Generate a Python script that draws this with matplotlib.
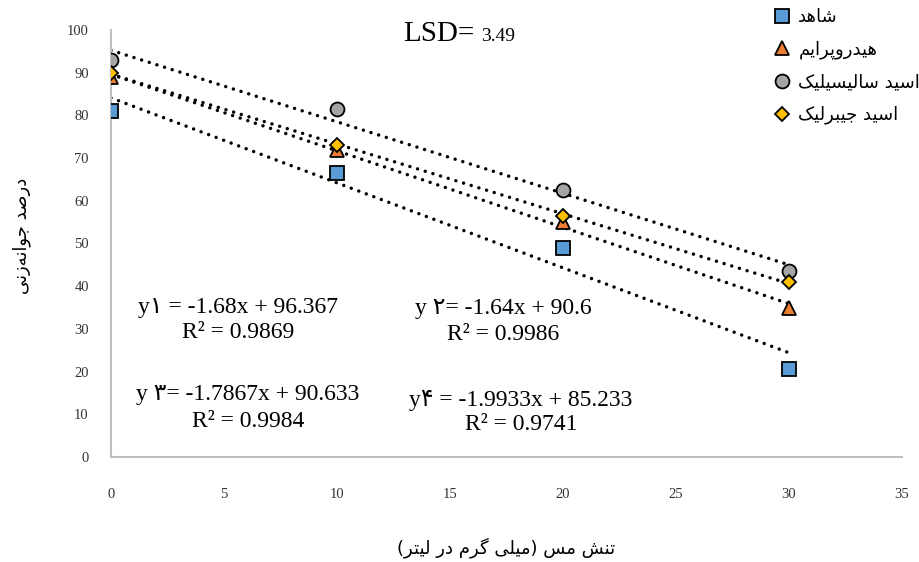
import numpy as np
import matplotlib
matplotlib.use("Agg")
import matplotlib.pyplot as plt

# ---------------- data ----------------
copper = [0, 10, 20, 30]                      # mg/L
control = [81.0, 66.5, 49.0, 20.5]            # شاهد
hydroprime = [89.0, 72.0, 55.0, 35.0]         # هیدروپرایم
salicylic = [93.0, 81.5, 62.5, 43.5]          # اسید سالیسیلیک
gibberellic = [90.0, 73.0, 56.5, 41.0]        # اسید جیبرلیک

series_names = ["شاهد", "هیدروپرایم", "اسید سالیسیلیک", "اسید جیبرلیک"]
eq_lines = [("y۱ = -1.68x + 96.367", "R² = 0.9869"),
            ("y ۲= -1.64x + 90.6", "R² = 0.9986"),
            ("y ۳= -1.7867x + 90.633", "R² = 0.9984"),
            ("y۴ = -1.9933x + 85.233", "R² = 0.9741")]
x_title = "تنش مس (میلی گرم در لیتر)"
y_title = "درصد جوانه‌زنی"
x_ticks = [0, 5, 10, 15, 20, 25, 30, 35]
y_ticks = [0, 10, 20, 30, 40, 50, 60, 70, 80, 90, 100]

# ---------------- tiny persian shaper (matplotlib has no shaping / bidi) ----------------
# char: (isolated, final, initial, medial); None = letter does not join to the next one
FORMS = {
    "ا": ("\uFE8D", "\uFE8E", None, None),
    "ب": ("\uFE8F", "\uFE90", "\uFE91", "\uFE92"),
    "پ": ("\uFB56", "\uFB57", "\uFB58", "\uFB59"),
    "ت": ("\uFE95", "\uFE96", "\uFE97", "\uFE98"),
    "ج": ("\uFE9D", "\uFE9E", "\uFE9F", "\uFEA0"),
    "د": ("\uFEA9", "\uFEAA", None, None),
    "ر": ("\uFEAD", "\uFEAE", None, None),
    "ز": ("\uFEAF", "\uFEB0", None, None),
    "س": ("\uFEB1", "\uFEB2", "\uFEB3", "\uFEB4"),
    "ش": ("\uFEB5", "\uFEB6", "\uFEB7", "\uFEB8"),
    "ص": ("\uFEB9", "\uFEBA", "\uFEBB", "\uFEBC"),
    "ک": ("\uFB8E", "\uFB8F", "\uFB90", "\uFB91"),
    "گ": ("\uFB92", "\uFB93", "\uFB94", "\uFB95"),
    "ل": ("\uFEDD", "\uFEDE", "\uFEDF", "\uFEE0"),
    "م": ("\uFEE1", "\uFEE2", "\uFEE3", "\uFEE4"),
    "ن": ("\uFEE5", "\uFEE6", "\uFEE7", "\uFEE8"),
    "ه": ("\uFEE9", "\uFEEA", "\uFEEB", "\uFEEC"),
    "و": ("\uFEED", "\uFEEE", None, None),
    "ی": ("\uFBFC", "\uFBFD", "\uFBFE", "\uFBFF"),
}
MIRROR = {"(": ")", ")": "("}


def fa(text):
    out = []
    for i, c in enumerate(text):
        if c not in FORMS:
            if c != "\u200c":
                out.append(MIRROR.get(c, c))
            continue
        prev = text[i - 1] if i > 0 else None
        nxt = text[i + 1] if i + 1 < len(text) else None
        jp = prev in FORMS and FORMS[prev][2] is not None
        jn = FORMS[c][2] is not None and nxt in FORMS
        iso, fin, ini, med = FORMS[c]
        out.append(med if (jp and jn) else fin if jp else ini if jn else iso)
    return "".join(reversed(out))


# ---------------- figure ----------------
W, H = 920, 562
fig = plt.figure(figsize=(W / 100, H / 100), dpi=100)
ax = fig.add_axes([111 / W, 1 - 457 / H, (902 - 111) / W, (457 - 30) / H])

serif = "Liberation Serif"
styles = [("s", "#5B9BD5", 9.5), ("^", "#ED7D31", 10), ("o", "#A5A5A5", 10), ("D", "#FFC000", 7)]
all_series = [control, hydroprime, salicylic, gibberellic]

xs = np.array(copper, dtype=float)
for ys in all_series:
    k, b = np.polyfit(xs, ys, 1)
    xl = np.array([xs.min(), xs.max()])
    ax.plot(xl, k * xl + b, color="black", lw=2.5, ls=(0, (0.01, 2.3)),
            dash_capstyle="round", zorder=2)

handles = []
for ys, (m, c, ms), name in zip(all_series, styles, series_names):
    h, = ax.plot(copper, ys, ls="none", marker=m, ms=ms, mfc=c, mec="black",
                 mew=1.3, zorder=3, label=fa(name))
    handles.append(h)

ax.set_xlim(0, 35)
ax.set_ylim(0, 100)
ax.set_xticks(x_ticks)
ax.set_yticks(y_ticks)
ax.set_xticklabels([str(t) for t in x_ticks], fontfamily=serif, fontsize=10.5, color="#333333")
ax.set_yticklabels([str(t) for t in y_ticks], fontfamily=serif, fontsize=10.5, color="#333333")
ax.tick_params(axis="x", length=0, pad=22)
ax.tick_params(axis="y", length=0, pad=16)
for s in ["top", "right"]:
    ax.spines[s].set_visible(False)
for s in ["left", "bottom"]:
    ax.spines[s].set_color("#bfbfbf")
    ax.spines[s].set_linewidth(1.5)

fig.text(506 / W, 1 - 548 / H, fa(x_title), ha="center", va="center",
         fontfamily="DejaVu Sans", fontsize=13)
fig.text(22 / W, 1 - 236 / H, fa(y_title), ha="center", va="center", rotation=90,
         fontfamily="DejaVu Sans", fontsize=13)

# trendline equations (centred two-line blocks)
eq_pos = [(238, 313, 338), (503, 314, 340), (248, 400, 427), (521, 406, 430)]
for (l1, l2), (cx, b1, b2) in zip(eq_lines, eq_pos):
    fig.text(cx / W, 1 - b1 / H, l1, ha="center", va="baseline",
             fontfamily=[serif, "DejaVu Sans"], fontsize=17)
    fig.text(cx / W, 1 - b2 / H, l2, ha="center", va="baseline",
             fontfamily=[serif, "DejaVu Sans"], fontsize=17)

fig.text(403 / W, 1 - 41 / H, "LSD=", ha="left", va="baseline", fontfamily=serif, fontsize=21)
fig.text(481 / W, 1 - 41 / H, "3.49", ha="left", va="baseline", fontfamily=serif, fontsize=14)

fig.legend(handles=handles, loc="upper left", bbox_to_anchor=(773 / W, 1 - 8 / H),
           frameon=False, borderpad=0, borderaxespad=0, handlelength=1.0,
           handletextpad=0.4, labelspacing=0.8, numpoints=1,
           prop={"family": "DejaVu Sans", "size": 13})

fig.savefig("out.png", dpi=100)
